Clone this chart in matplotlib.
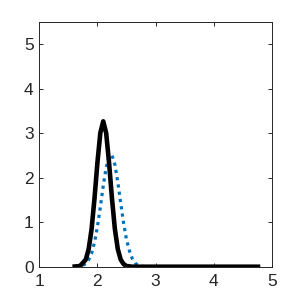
import matplotlib
matplotlib.use("Agg")
import matplotlib.pyplot as plt

# Black solid curve
x_black = [1.57, 1.7, 1.8, 1.85, 1.9, 1.95, 2.0, 2.05, 2.1, 2.15, 2.2, 2.25, 2.3, 2.35, 2.4, 2.45, 2.5, 2.6, 2.7, 3.0, 4.0, 4.8]
y_black = [0.0, 0.015, 0.16, 0.40, 0.85, 1.54, 2.34, 3.01, 3.27, 3.01, 2.34, 1.54, 0.85, 0.40, 0.16, 0.06, 0.015, 0.0, 0.0, 0.0, 0.0, 0.0]

# Blue dotted curve
x_blue = [1.75, 1.8, 1.85, 1.9, 1.95, 2.0, 2.05, 2.1, 2.15, 2.2, 2.25, 2.3, 2.35, 2.4, 2.45, 2.5, 2.55, 2.6, 2.65, 2.7, 2.8, 3.0, 4.0, 4.8]
y_blue = [0.03, 0.07, 0.16, 0.30, 0.55, 0.90, 1.34, 1.82, 2.23, 2.48, 2.51, 2.30, 1.91, 1.44, 0.98, 0.61, 0.36, 0.18, 0.08, 0.03, 0.0, 0.0, 0.0, 0.0]

x_ticks = [1, 2, 3, 4, 5]
y_ticks = [0, 1, 2, 3, 4, 5]

plt.rcParams['font.family'] = ['Liberation Sans', 'DejaVu Sans']

fig = plt.figure(figsize=(3, 3), dpi=100)
ax = fig.add_axes([0.131, 0.111, 0.775, 0.815])

ax.plot(x_blue, y_blue, color='#0072BD', linewidth=2.3, linestyle=(0, (1, 1.3)),
        dash_capstyle='butt', zorder=2)
ax.plot(x_black, y_black, color='black', linewidth=3.3, solid_capstyle='butt', zorder=3)

ax.set_xlim(1, 5)
ax.set_ylim(0, 5.5)
ax.set_xticks(x_ticks)
ax.set_yticks(y_ticks)
ax.set_xticklabels([str(t) for t in x_ticks])
ax.set_yticklabels([str(t) for t in y_ticks])

for s in ax.spines.values():
    s.set_color('#262626')
    s.set_linewidth(0.7)

ax.tick_params(direction='in', length=3, width=0.7, colors='#262626',
               labelsize=12.5, top=True, right=True)
ax.tick_params(axis='x', pad=5)
ax.tick_params(axis='y', pad=4)

fig.savefig('out.png', dpi=100)
